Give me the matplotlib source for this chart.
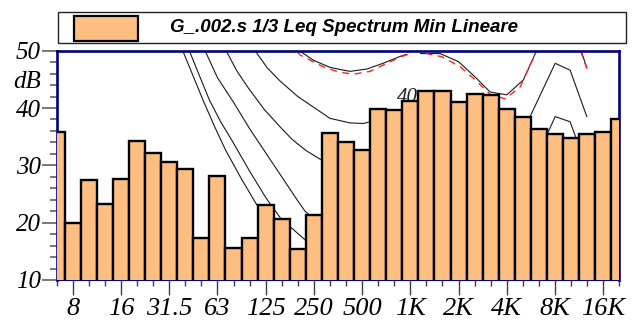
import numpy as np
import matplotlib
matplotlib.use("Agg")
import matplotlib.pyplot as plt
from matplotlib.patches import Rectangle

plt.rcParams['font.family'] = 'Liberation Serif'
plt.rcParams['font.style'] = 'italic'

# 1/3 octave bands, 6.3 Hz .. 20 kHz
bands = ['6.3', '8', '10', '12.5', '16', '20', '25', '31.5', '40', '50', '63', '80',
         '100', '125', '160', '200', '250', '315', '400', '500', '630', '800', '1K', '1.25K',
         '1.6K', '2K', '2.5K', '3.15K', '4K', '5K', '6.3K', '8K', '10K', '12.5K', '16K', '20K']
level_db = [35.8, 19.9, 27.5, 23.3, 27.7, 34.3, 32.2, 30.6, 29.4, 17.4, 28.1, 15.5,
            17.3, 23.0, 20.6, 15.4, 21.3, 35.6, 34.1, 32.7, 39.9, 39.7, 41.3, 43.0,
            43.0, 41.0, 42.4, 42.2, 39.9, 38.4, 36.3, 35.5, 34.8, 35.4, 35.9, 38.0]
shown_labels = ['8', '16', '31.5', '63', '125', '250', '500', '1K', '2K', '4K', '8K', '16K']
legend_text = 'G_.002.s 1/3 Leq Spectrum Min Lineare'

# equal loudness curves (band position, dB)
curve_a_x = [7.84, 8.5, 9.1, 9.8, 10.5, 11.5, 12.45, 13.5, 14.5, 15.5, 16.5]
curve_a_y = [50.0, 45.5, 41.4, 36.9, 32.7, 27.6, 23.1, 18.8, 15.2, 12.2, 9.6]
curve_b_x = [8.25, 8.9, 9.5, 10.2, 10.89, 12.0, 13.0, 14.0, 14.52, 15.45, 16.5, 17.5]
curve_b_y = [50.0, 45.5, 41.4, 37.6, 34.4, 29.0, 24.4, 20.5, 19.3, 17.0, 15.0, 13.5]
curve_c_x = [9.23, 10.0, 11.0, 12.0, 13.0, 14.0, 15.0, 15.45, 16.5, 17.5, 19.0, 21.0]
curve_c_y = [50.0, 45.3, 41.0, 36.4, 32.2, 28.0, 23.8, 22.0, 19.5, 17.5, 15.5, 14.0]
curve_d_x = [10.54, 11.2, 11.92, 12.9, 13.9, 14.62, 15.5, 16.49, 17.0, 18.0, 20.0, 24.0,
             28.0, 29.5, 30.59, 31.01, 31.94, 32.25, 33.0]
curve_d_y = [50.0, 46.5, 43.5, 39.8, 36.7, 34.6, 32.6, 30.9, 30.3, 29.5, 29.5, 30.0,
             27.0, 31.0, 35.9, 38.5, 37.6, 35.2, 29.5]
curve_e_x = [12.34, 13.1, 13.9, 15.0, 15.9, 17.0, 18.25, 19.08, 20.0, 21.0, 22.0, 23.0,
             24.0, 25.0, 26.0, 27.0, 28.0, 28.7, 29.45, 31.01, 31.94, 32.98]
curve_e_y = [50.0, 47.0, 44.7, 42.0, 40.3, 38.2, 37.4, 37.3, 38.0, 39.3, 40.0, 40.3,
             39.5, 38.0, 36.0, 35.0, 35.5, 37.0, 38.5, 47.8, 46.6, 38.5]
curve_f_x = [14.0, 15.14, 16.0, 17.0, 17.84, 18.25, 19.29, 20.3, 21.36, 22.0, 22.79,
             23.85, 24.99, 26.0, 26.96, 28.0, 29.03, 29.87, 30.5, 32.5, 32.98]
curve_f_y = [52.0, 49.9, 48.3, 47.1, 46.6, 46.4, 46.8, 47.8, 49.0, 49.6, 49.5,
             49.5, 48.1, 45.5, 42.8, 42.3, 44.9, 50.1, 53.0, 51.0, 47.0]
curve_r_x = [14.5, 15.14, 16.5, 17.5, 18.46, 19.5, 20.32, 21.3, 22.17, 23.0, 23.96,
             25.1, 26.0, 26.96, 27.9, 28.84, 29.87, 30.3, 32.4, 32.58, 32.98]
curve_r_y = [51.5, 49.25, 47.3, 46.3, 45.9, 46.4, 47.5, 48.8, 49.7, 49.5, 48.95,
             47.2, 45.0, 42.4, 41.6, 43.7, 50.1, 52.0, 52.0, 50.1, 46.9]

x = np.arange(len(bands))

fig = plt.figure(figsize=(6.4, 3.25), dpi=100)
ax = fig.add_axes([56.7 / 640, 1 - 280 / 325, 562.6 / 640, 229.3 / 325])

# curves behind the bars
for cx, cy in [(curve_a_x, curve_a_y), (curve_b_x, curve_b_y), (curve_c_x, curve_c_y),
               (curve_d_x, curve_d_y), (curve_e_x, curve_e_y), (curve_f_x, curve_f_y)]:
    ax.plot(cx, cy, color='#1a1a1a', lw=0.8, zorder=1)
ax.plot(curve_r_x, curve_r_y, color='#ff2020', lw=1.0, ls=(0, (5, 4)), zorder=1.1)

ax.text(21.8, 41.8, '40', fontsize=15, ha='center', va='center', color='#222222',
        zorder=1.5, clip_on=True)
ax.text(22.0, 50.9, '50', fontsize=11, ha='center', va='center', color='#222222',
        bbox=dict(facecolor='white', edgecolor='none', pad=1.5), zorder=1.6, clip_on=True)

ax.bar(x, level_db, width=1.0, color='#FEBE82', edgecolor='black', linewidth=1.7, zorder=3)

ax.set_xlim(0, 35)
ax.set_ylim(10, 50)

ax.set_xticks(x[1::3])
ax.set_xticklabels(shown_labels, fontsize=19)
ax.set_xticks(x, minor=True)
ax.set_yticks([10, 20, 30, 40, 50])
ax.set_yticks(np.arange(10, 51, 2), minor=True)
ax.tick_params(axis='y', which='major', direction='out', length=11, width=1.2,
               color='#606060', pad=0.5, labelsize=18)
ax.tick_params(axis='y', which='minor', direction='out', length=5, width=1.2, color='#606060')
ax.tick_params(axis='x', which='major', direction='out', length=11, width=1.0,
               color='#404040', pad=2)
ax.tick_params(axis='x', which='minor', direction='out', length=4.5, width=1.0, color='#404040')

for side in ['top', 'left', 'right']:
    ax.spines[side].set_color('#000080')
    ax.spines[side].set_linewidth(1.9)
ax.spines['bottom'].set_color('#000080')
ax.spines['bottom'].set_linewidth(0.8)

ax.text(-0.052, 44.6, 'dB', transform=ax.get_yaxis_transform(), fontsize=18,
        ha='center', va='center')

# legend box
fig.add_artist(Rectangle((58 / 640, 1 - 43 / 325), 568 / 640, 31 / 325,
                         transform=fig.transFigure, facecolor='white',
                         edgecolor='#222222', lw=1.0))
fig.add_artist(Rectangle((74 / 640, 1 - 41 / 325), 64 / 640, 25 / 325,
                         transform=fig.transFigure, facecolor='#FEBE82',
                         edgecolor='black', lw=1.6))
fig.text(170 / 640, 1 - 27 / 325, legend_text, family='Liberation Sans', weight='bold',
         style='italic', fontsize=13.5, ha='left', va='center')

fig.savefig('out.png', dpi=100)
